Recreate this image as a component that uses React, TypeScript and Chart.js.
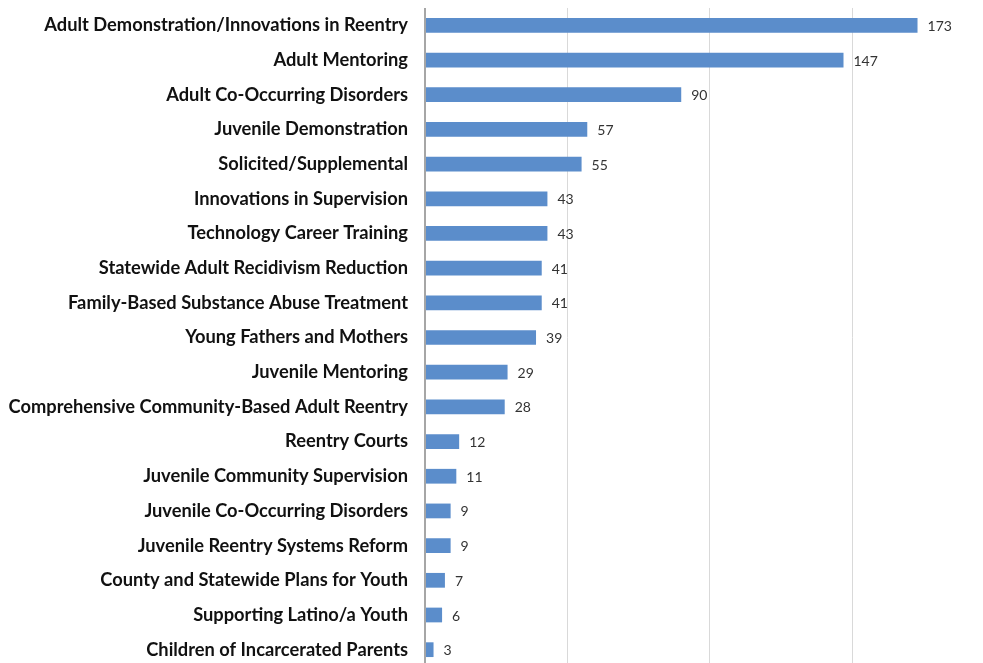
import React, { useEffect, useRef } from "react";
import { Chart, registerables } from "chart.js";

Chart.register(...registerables);

const categories = [
  "Adult Demonstration/Innovations in Reentry",
  "Adult Mentoring",
  "Adult Co-Occurring Disorders",
  "Juvenile Demonstration",
  "Solicited/Supplemental",
  "Innovations in Supervision",
  "Technology Career Training",
  "Statewide Adult Recidivism Reduction",
  "Family-Based Substance Abuse Treatment",
  "Young Fathers and Mothers",
  "Juvenile Mentoring",
  "Comprehensive Community-Based Adult Reentry",
  "Reentry Courts",
  "Juvenile Community Supervision",
  "Juvenile Co-Occurring Disorders",
  "Juvenile Reentry Systems Reform",
  "County and Statewide Plans for Youth",
  "Supporting Latino/a Youth",
  "Children of Incarcerated Parents",
];

const values = [173, 147, 90, 57, 55, 43, 43, 41, 41, 39, 29, 28, 12, 11, 9, 9, 7, 6, 3];

const gridTicks = [0, 50, 100, 150];

const valueLabels = {
  id: "valueLabels",
  afterDatasetsDraw(chart: any) {
    const ctx = chart.ctx;
    const meta = chart.getDatasetMeta(0);
    ctx.save();
    ctx.font = "14px Lato";
    ctx.fillStyle = "#333333";
    ctx.textAlign = "left";
    ctx.textBaseline = "middle";
    meta.data.forEach((bar: any, i: number) => {
      ctx.fillText(String(values[i]), bar.x + 10, bar.y + 1);
    });
    ctx.restore();
  },
};

export default function App() {
  const ref = useRef<HTMLCanvasElement | null>(null);
  useEffect(() => {
    document.body.style.margin = "0";
    const chart = new Chart(ref.current as HTMLCanvasElement, {
      type: "bar",
      data: {
        labels: categories,
        datasets: [
          {
            data: values,
            backgroundColor: "#5B8DCB",
            borderWidth: 0,
            barPercentage: 0.85,
            categoryPercentage: 0.5,
          },
        ],
      },
      options: {
        indexAxis: "y",
        animation: false,
        responsive: false,
        maintainAspectRatio: false,
        layout: { padding: { top: 7, bottom: 4, left: 0, right: 0 } },
        plugins: {
          legend: { display: false },
          tooltip: { enabled: false },
        },
        scales: {
          x: {
            min: 0,
            max: 196,
            position: "bottom",
            afterBuildTicks(scale: any) {
              scale.ticks = gridTicks.map((v) => ({ value: v }));
            },
            ticks: { display: false },
            grid: {
              color: (c: any) => (c.tick && c.tick.value === 0 ? "#A6A6A6" : "#D9D9D9"),
              lineWidth: (c: any) => (c.tick && c.tick.value === 0 ? 2 : 1),
              drawTicks: false,
            },
            border: { display: false },
          },
          y: {
            afterFit(scale: any) {
              scale.width = 425;
            },
            ticks: {
              color: "#111111",
              font: { family: "Lato", size: 18.3, weight: "bold" },
              padding: 17,
            },
            grid: { display: false, drawTicks: false },
            border: { display: false },
          },
        },
      },
      plugins: [valueLabels],
    });
    return () => chart.destroy();
  }, []);
  return (
    <div style={{ position: "absolute", left: 0, top: 0, width: 983, height: 663, overflow: "hidden", background: "#fff" }}>
      <canvas ref={ref} width={983} height={715} style={{ display: "block", position: "absolute", left: 0, top: -20 }} />
    </div>
  );
}
